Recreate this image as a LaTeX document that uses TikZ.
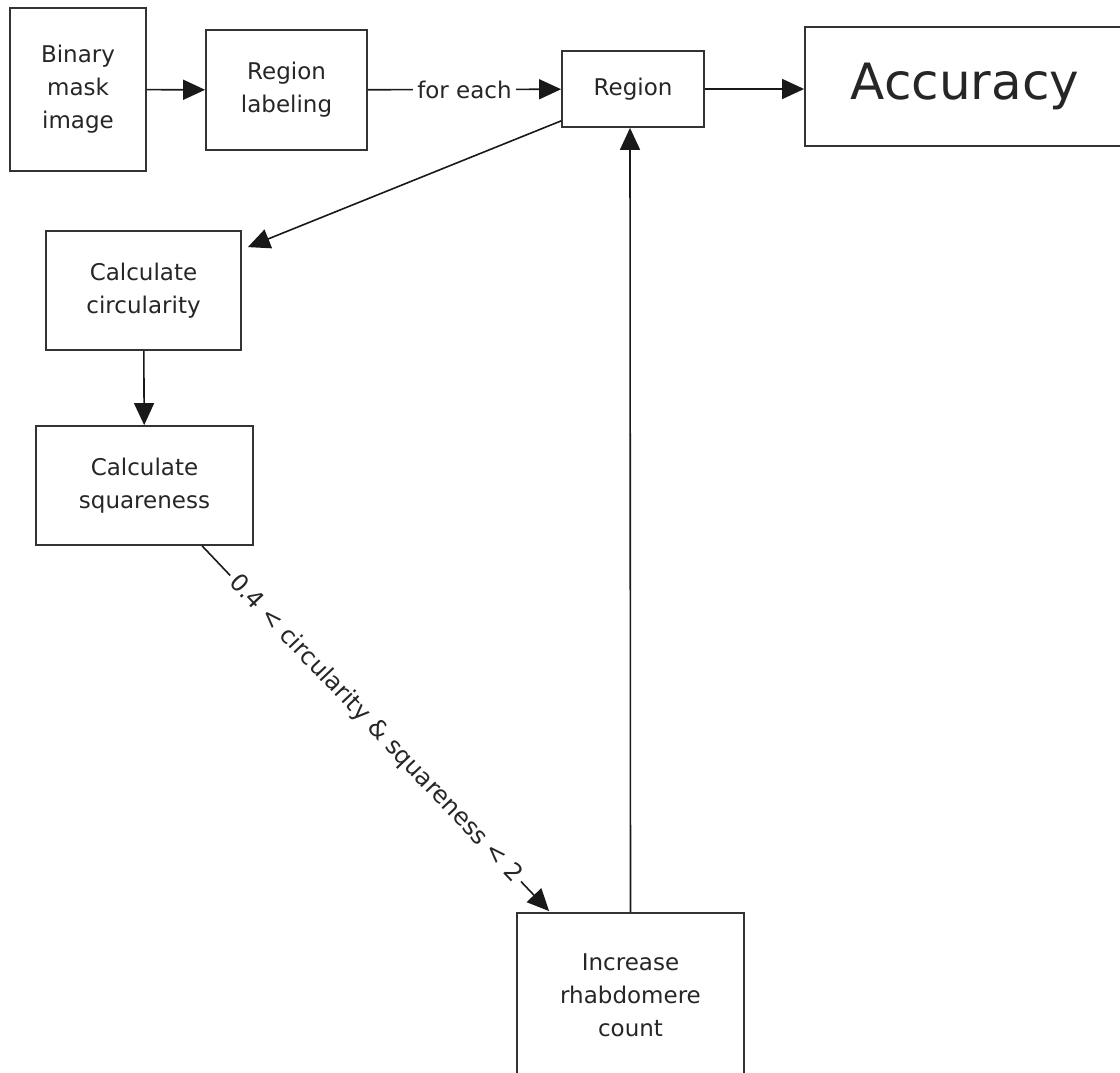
\documentclass[tikz,border=0pt]{standalone}
\usepackage{fontspec}
\setmainfont{DejaVu Sans}
\usetikzlibrary{arrows.meta,calc}
\begin{document}
\begin{tikzpicture}[x=1pt,y=-1pt,
 box/.style={draw=black!80, line width=1.8pt, align=center, font=\fontsize{23}{33}\selectfont, inner sep=0pt, text=black!85},
 arr/.style={draw=black!90, line width=1.6pt, -{Triangle[length=22pt,width=20pt]}},
 lbl/.style={fill=white, font=\fontsize{23}{27}\selectfont, inner sep=4pt, text=black!85}]
\useasboundingbox (0,0) rectangle (1120,1073);
\node[box, minimum width=136pt, minimum height=163pt] (bin) at (78,89.5) {Binary\\mask\\image};
\node[box, minimum width=161pt, minimum height=120pt] (lab) at (286.5,90) {Region\\labeling};
\node[box, minimum width=142pt, minimum height=76pt] (reg) at (633,89) {Region};
\node[box, minimum width=330pt, minimum height=119pt, font=\fontsize{50}{58}\selectfont] (acc) at (970,86.5) {\hspace*{-10pt}Accuracy};
\node[box, minimum width=195pt, minimum height=119pt] (circ) at (143.5,290.5) {Calculate\\circularity};
\node[box, minimum width=217pt, minimum height=119pt] (sq) at (144.5,485.5) {Calculate\\squareness};
\node[box, minimum width=227pt, minimum height=180pt] (inc) at (630.5,1003) {Increase\\rhabdomere\\count\\[-17pt]};
\draw[arr] (bin) -- (lab);
\draw[arr] (lab) -- node[lbl] {for each} (reg);
\draw[arr] (reg.east) -- (acc.west |- reg.east);
\draw[arr] ([yshift=7pt]reg.south west) -- ([shift={(6pt,-17pt)}]circ.north east);
\draw[arr] (circ) -- (sq);
\draw[arr] ([xshift=167pt]sq.south west) -- node[lbl, sloped, font=\fontsize{24}{28}\selectfont] {0.4 < circularity \& squareness < 2} ([xshift=33pt,yshift=1pt]inc.north west);
\draw[arr] (inc.north) -- ([xshift=-3pt]reg.south);
\end{tikzpicture}
\end{document}
